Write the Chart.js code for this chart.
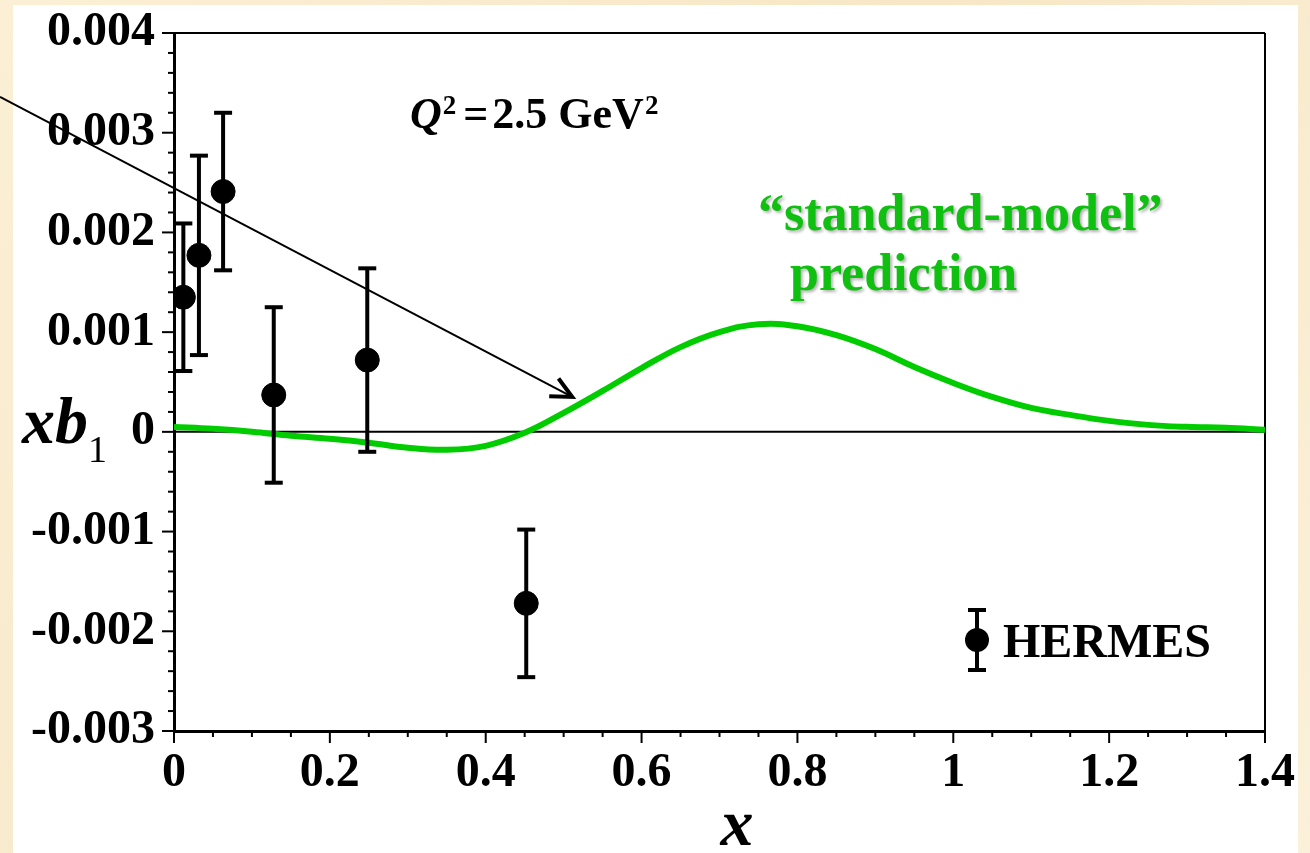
<!DOCTYPE html>
<html>
<head>
<meta charset="utf-8">
<title>xb1 at Q2 = 2.5 GeV2</title>
<script src="https://cdn.jsdelivr.net/npm/chart.js@4.4.1/dist/chart.umd.min.js"></script>
<style>
  html, body { margin: 0; padding: 0; background: #f8ecd2; }
  #wrap { width: 1310px; height: 853px; }
</style>
</head>
<body>
<div id="wrap"><canvas id="b1Chart" width="1310" height="853"></canvas></div>
<script>
// HERMES x*b1 data points with symmetric errors
const hermesX = [0.012, 0.032, 0.063, 0.128, 0.248, 0.452];
const hermesY = [0.00135, 0.00177, 0.00241, 0.00037, 0.00072, -0.00172];
const hermesErr = [0.00074, 0.00100, 0.00079, 0.00088, 0.00092, 0.00074];

// "standard-model" prediction curve
const modelX = [0, 0.05, 0.1, 0.15, 0.2, 0.25, 0.3, 0.35, 0.4, 0.45, 0.5, 0.55, 0.6, 0.65, 0.7,
                0.75, 0.8, 0.85, 0.9, 0.95, 1.0, 1.05, 1.1, 1.15, 1.2, 1.25, 1.3, 1.35, 1.4];
const modelY = [0.00005, 0.00003, 0.00000, -0.00004, -0.00007, -0.00011, -0.00016, -0.00018, -0.00014,
                -0.00001, 0.00019, 0.00041, 0.00064, 0.00085, 0.00100, 0.00108, 0.00106, 0.00097,
                0.00083, 0.00065, 0.00049, 0.00035, 0.00024, 0.00017, 0.00011, 0.00007, 0.00005,
                0.00004, 0.00002];

// arrow pointing at the curve (data coordinates)
const arrowFrom = { x: -0.2233, y: 0.00336 };
const arrowTo = { x: 0.511, y: 0.00035 };

const SERIF = '"Liberation Serif", "Times New Roman", serif';
const GREEN = '#00cc00';

document.addEventListener("DOMContentLoaded", function() {

  function line(ctx, x1, y1, x2, y2) {
    ctx.beginPath();
    ctx.moveTo(x1, y1);
    ctx.lineTo(x2, y2);
    ctx.stroke();
  }

  // draw a run of text pieces, each with its own font and baseline shift
  function drawRun(ctx, x, y, pieces) {
    pieces.forEach(p => {
      ctx.font = p.font;
      x += p.gap || 0;
      ctx.fillText(p.text, x, y + (p.dy || 0));
      x += ctx.measureText(p.text).width;
    });
  }

  const paperPlugin = {
    id: 'paper',
    beforeDraw(chart) {
      const ctx = chart.ctx;
      ctx.save();
      const g = ctx.createLinearGradient(0, 0, chart.width, chart.height);
      g.addColorStop(0, '#fbefd5');
      g.addColorStop(0.5, '#f7e7c6');
      g.addColorStop(1, '#fbf0d9');
      ctx.fillStyle = g;
      ctx.fillRect(0, 0, chart.width, chart.height);
      ctx.fillStyle = '#ffffff';
      ctx.fillRect(13, 5, 1285, 848);
      ctx.restore();
    }
  };

  // frame edges, zero line and major/minor tick marks
  const framePlugin = {
    id: 'frame',
    beforeDatasetsDraw(chart) {
      const { ctx, chartArea: a, scales: { x, y } } = chart;
      ctx.save();
      ctx.strokeStyle = '#000';
      ctx.lineWidth = 2;
      const y0 = y.getPixelForValue(0);
      line(ctx, a.left, y0, a.right, y0);
      line(ctx, a.left, a.top, a.right, a.top);
      line(ctx, a.right, a.top, a.right, a.bottom);
      for (let i = 0; i <= 28; i++) {
        const px = x.getPixelForValue(i * 0.05);
        line(ctx, px, a.bottom, px, a.bottom + (i % 4 === 0 ? 12 : 6));
      }
      for (let i = 0; i <= 35; i++) {
        const py = y.getPixelForValue(-0.003 + i * 0.0002);
        line(ctx, a.left - (i % 5 === 0 ? 12 : 6), py, a.left, py);
      }
      ctx.restore();
    }
  };

  const errorBarPlugin = {
    id: 'errorBars',
    afterDatasetsDraw(chart) {
      const { ctx, scales: { x, y } } = chart;
      ctx.save();
      ctx.strokeStyle = '#000';
      ctx.lineWidth = 4;
      hermesX.forEach((xv, i) => {
        const px = x.getPixelForValue(xv);
        const top = y.getPixelForValue(hermesY[i] + hermesErr[i]);
        const bot = y.getPixelForValue(hermesY[i] - hermesErr[i]);
        line(ctx, px, top, px, bot);
        line(ctx, px - 9, top, px + 9, top);
        line(ctx, px - 9, bot, px + 9, bot);
      });
      ctx.restore();
    }
  };

  const labelPlugin = {
    id: 'labels',
    afterDraw(chart) {
      const { ctx, scales: { x, y } } = chart;
      ctx.save();

      // arrow
      const x1 = x.getPixelForValue(arrowFrom.x), y1 = y.getPixelForValue(arrowFrom.y);
      const x2 = x.getPixelForValue(arrowTo.x), y2 = y.getPixelForValue(arrowTo.y);
      ctx.strokeStyle = '#000';
      ctx.lineWidth = 2;
      line(ctx, x1, y1, x2, y2);
      const ang = Math.atan2(y1 - y2, x1 - x2);
      ctx.lineWidth = 4;
      ctx.lineJoin = 'miter';
      ctx.beginPath();
      ctx.moveTo(x2 + 23 * Math.cos(ang + 0.45), y2 + 23 * Math.sin(ang + 0.45));
      ctx.lineTo(x2, y2);
      ctx.lineTo(x2 + 23 * Math.cos(ang - 0.45), y2 + 23 * Math.sin(ang - 0.45));
      ctx.stroke();

      ctx.fillStyle = '#000';
      ctx.textBaseline = 'alphabetic';
      ctx.textAlign = 'left';

      // Q^2 = 2.5 GeV^2
      drawRun(ctx, 410, 128, [
        { text: 'Q', font: `italic bold 44px ${SERIF}` },
        { text: '2', font: `bold 27px ${SERIF}`, dy: -14, gap: 1 },
        { text: '=', font: `bold 44px ${SERIF}`, gap: 7 },
        { text: '2.5 GeV', font: `bold 44px ${SERIF}`, gap: 4 },
        { text: '2', font: `bold 27px ${SERIF}`, dy: -14, gap: 1 }
      ]);

      // axis titles
      drawRun(ctx, 22, 443, [
        { text: 'xb', font: `italic bold 66px ${SERIF}` },
        { text: '1', font: `38px ${SERIF}`, dy: 19, gap: 0 }
      ]);
      ctx.font = `italic bold 66px ${SERIF}`;
      ctx.textAlign = 'center';
      ctx.fillText('x', 737, 845);

      // legend
      const lx = 977, ly = 640;
      ctx.lineWidth = 4;
      line(ctx, lx, ly - 30, lx, ly + 30);
      line(ctx, lx - 9, ly - 30, lx + 9, ly - 30);
      line(ctx, lx - 9, ly + 30, lx + 9, ly + 30);
      ctx.beginPath();
      ctx.arc(lx, ly, 12, 0, Math.PI * 2);
      ctx.fill();
      ctx.textAlign = 'left';
      ctx.font = `bold 48px ${SERIF}`;
      ctx.fillText('HERMES', 1003, 657);

      // curve label
      ctx.fillStyle = '#10c010';
      ctx.shadowColor = 'rgba(0,0,0,0.3)';
      ctx.shadowBlur = 3;
      ctx.shadowOffsetX = 2;
      ctx.shadowOffsetY = 2;
      ctx.font = `bold 52px ${SERIF}`;
      ctx.fillText('\u201Cstandard-model\u201D', 758, 230);
      ctx.fillText('prediction', 790, 290);
      ctx.restore();
    }
  };

  const ctx = document.getElementById('b1Chart').getContext('2d');
  new Chart(ctx, {
    type: 'scatter',
    data: {
      datasets: [{
        label: 'HERMES',
        data: hermesX.map((v, i) => ({ x: v, y: hermesY[i] })),
        backgroundColor: '#000',
        borderColor: '#000',
        pointRadius: 12,
        pointHoverRadius: 12,
        order: 1
      }, {
        type: 'line',
        label: 'standard-model prediction',
        data: modelX.map((v, i) => ({ x: v, y: modelY[i] })),
        borderColor: GREEN,
        borderWidth: 6,
        pointRadius: 0,
        tension: 0.4,
        fill: false,
        order: 2
      }]
    },
    options: {
      responsive: false,
      animation: false,
      layout: { padding: { left: 0, top: 33, right: 45, bottom: 0 } },
      plugins: {
        legend: { display: false },
        tooltip: { enabled: false }
      },
      scales: {
        x: {
          type: 'linear',
          min: 0,
          max: 1.4,
          afterFit: s => { s.height = 122; },
          grid: { display: false, drawTicks: false },
          border: { display: true, color: '#000', width: 3 },
          ticks: {
            stepSize: 0.2,
            padding: 14,
            color: '#000',
            font: { family: SERIF, size: 48, weight: 'bold' },
            callback: v => String(Number(v.toFixed(1)))
          }
        },
        y: {
          min: -0.003,
          max: 0.004,
          afterFit: s => { s.width = 174; s.paddingTop = 0; s.paddingBottom = 0; },
          grid: { display: false, drawTicks: false },
          border: { display: true, color: '#000', width: 3 },
          ticks: {
            stepSize: 0.001,
            padding: 19,
            color: '#000',
            font: { family: SERIF, size: 48, weight: 'bold' },
            callback: v => Math.abs(v) < 1e-9 ? '0' : v.toFixed(3)
          }
        }
      }
    },
    plugins: [paperPlugin, framePlugin, errorBarPlugin, labelPlugin]
  });
});
</script>
</body>
</html>
